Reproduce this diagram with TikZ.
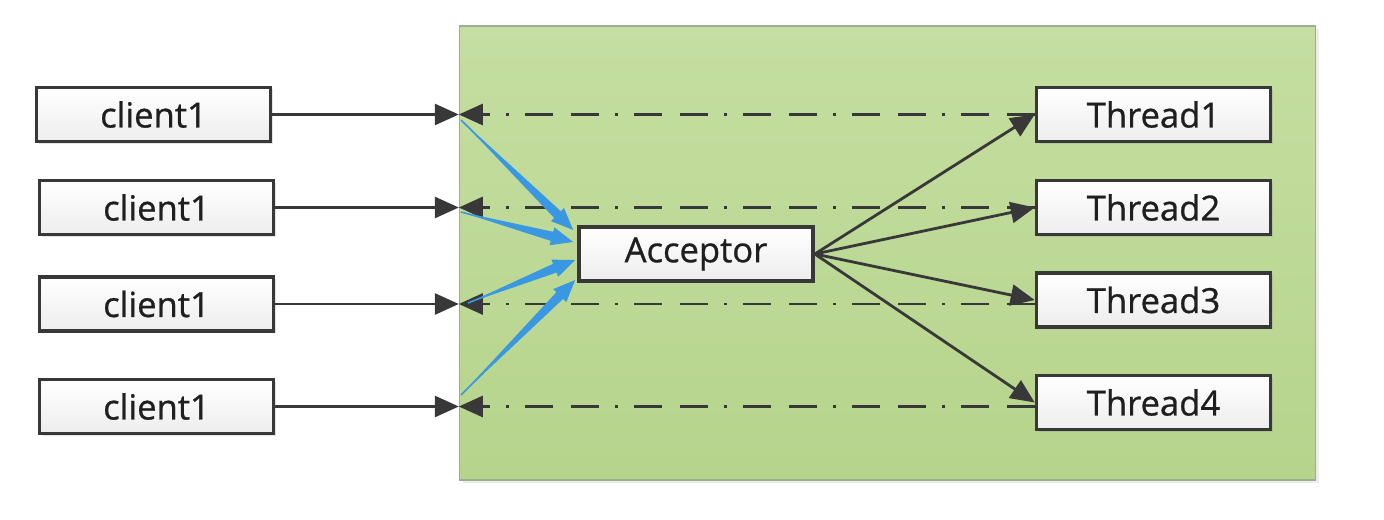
\documentclass[tikz,border=0pt]{standalone}
\usepackage{fontspec}
\setmainfont{Open Sans}
\newfontfamily\boxfont{Open Sans}[RawFeature={embolden=0.8}]
\usetikzlibrary{arrows.meta,shadows,calc}
\definecolor{ink}{HTML}{383838}
\definecolor{greentop}{HTML}{C5DEA1}
\definecolor{greenbot}{HTML}{B6D48C}
\definecolor{greenedge}{HTML}{9EAE90}
\definecolor{bluearr}{HTML}{3A98E2}
\newcommand{\taperline}[2]{%
  \coordinate (tb) at ($(#2)!10pt!(#1)$);
  \fill[bluearr] (#1) -- ($(tb)!2.4pt!90:(#1)$) -- ($(tb)!2.4pt!-90:(#1)$) -- cycle;
  \draw[blue] (#1) -- (#2);}
\begin{document}
\begin{tikzpicture}[x=0.5pt,y=-0.5pt,
  box/.style={draw=ink, line width=1.8pt, top color=white, bottom color=gray!14,
    minimum width=117pt, minimum height=27pt, inner sep=0pt,
    font=\boxfont\fontsize{17.3}{20}\selectfont, text=black!88,
    drop shadow={opacity=0.22, shadow xshift=1pt, shadow yshift=-1pt}},
  server/.style={draw=greenedge, line width=0.7pt, top color=greentop, bottom color=greenbot,
    minimum width=428pt, minimum height=227pt, inner sep=0pt,
    drop shadow={opacity=0.15, shadow xshift=1.5pt, shadow yshift=-1.5pt}},
  arr/.style={draw=ink, line width=1.4pt, -{Triangle[length=12pt,width=10.5pt]}},
  back/.style={draw=ink, line width=1.4pt, dash pattern=on 14pt off 9pt on 14pt off 8pt on 1.5pt off 8pt,
    -{Triangle[length=12pt,width=10.5pt]}},
  blue/.style={draw=bluearr, line width=0.8pt, -{Triangle[length=11pt,width=9pt]}}
]
\useasboundingbox (0,0) rectangle (1384,519);
\node[server] (srv) at (887.5,253) {};

\node[box] (c1) at (153.5,114.5) {client1};
\node[box] (c2) at (156.5,207.5) {client1};
\node[box] (c3) at (156.5,304) {client1};
\node[box] (c4) at (156.5,406.5) {client1};

\node[box] (acc) at (696,254) {Acceptor};

\node[box] (t1) at (1153.5,114.5) {Thread1};
\node[box] (t2) at (1153.5,207.5) {Thread2};
\node[box] (t3) at (1153.5,300) {Thread3};
\node[box] (t4) at (1153.5,402.5) {Thread4};

% entry points on the server edge
\coordinate (e1) at (c1.east -| srv.west);
\coordinate (e2) at (c2.east -| srv.west);
\coordinate (e3) at (c3.east -| srv.west);
\coordinate (e4) at (c4.east -| srv.west);

% client -> server
\draw[arr] (c1.east) -- (e1);
\draw[arr] (c2.east) -- (e2);
\draw[arr] (c3.east) -- (e3);
\draw[arr] (c4.east) -- (e4);

% thread -> back to client (dash dot)
\draw[back] (t1.west |- c1.east) -- (e1);
\draw[back] (t2.west |- c2.east) -- (e2);
\draw[back] (t3.west |- c3.east) -- (e3);
\draw[back] (t4.west |- c4.east) -- (e4);

% blue: connections to acceptor
\coordinate (b1) at (461,120);
\coordinate (b2) at (461,212);
\coordinate (b3) at (468,303);
\coordinate (b4) at (461,395);
\coordinate (a1) at ([yshift=12pt,xshift=-2pt]acc.west);
\coordinate (a2) at ([yshift=6pt,xshift=-2pt]acc.west);
\coordinate (a3) at ([yshift=-3pt,xshift=-1pt]acc.west);
\coordinate (a4) at ([yshift=-13pt,xshift=-1pt]acc.west);
\taperline{b1}{a1}
\taperline{b2}{a2}
\taperline{b3}{a3}
\taperline{b4}{a4}

% acceptor -> threads
\draw[arr] (acc.east) -- (t1.west);
\draw[arr] (acc.east) -- (t2.west);
\draw[arr] (acc.east) -- (t3.west);
\draw[arr] (acc.east) -- (t4.west);
\end{tikzpicture}
\end{document}
